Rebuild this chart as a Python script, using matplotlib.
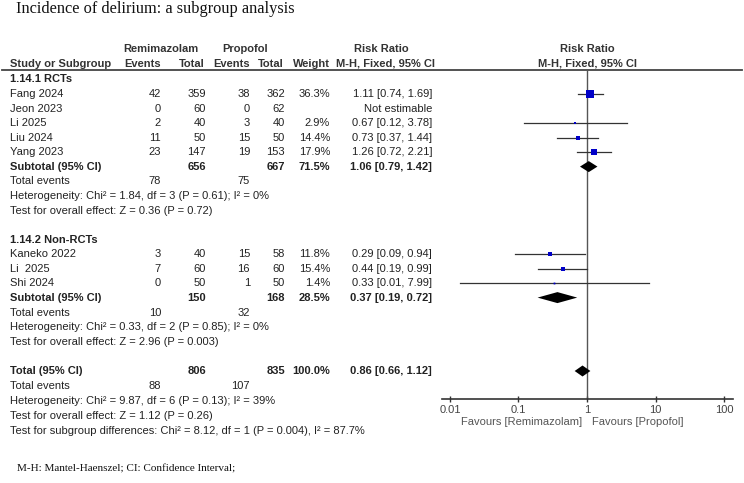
import numpy as np
import matplotlib
matplotlib.use("Agg")
from matplotlib import pyplot as plt

# dados do forest plot
grp1_studies = ["Fang 2024", "Jeon 2023", "Li 2025", "Liu 2024", "Yang 2023"]
grp1_ev_r = [42, 0, 2, 11, 23]
grp1_tot_r = [359, 60, 40, 50, 147]
grp1_ev_p = [38, 0, 3, 15, 19]
grp1_tot_p = [362, 62, 40, 50, 153]
grp1_weight = [36.3, None, 2.9, 14.4, 17.9]
grp1_rr = [1.11, None, 0.67, 0.73, 1.26]
grp1_lo = [0.74, None, 0.12, 0.37, 0.72]
grp1_hi = [1.69, None, 3.78, 1.44, 2.21]

grp2_studies = ["Kaneko 2022", "Li  2025", "Shi 2024"]
grp2_ev_r = [3, 7, 0]
grp2_tot_r = [40, 60, 50]
grp2_ev_p = [15, 16, 1]
grp2_tot_p = [58, 60, 50]
grp2_weight = [11.8, 15.4, 1.4]
grp2_rr = [0.29, 0.44, 0.33]
grp2_lo = [0.09, 0.19, 0.014]
grp2_hi = [0.94, 0.99, 7.99]

# subtotais / total: [total_r, total_p, weight, rr, lo, hi, events_r, events_p]
sub1 = [656, 667, 71.5, 1.06, 0.79, 1.42, 78, 75]
sub2 = [150, 168, 28.5, 0.37, 0.19, 0.72, 10, 32]
overall = [806, 835, 100.0, 0.86, 0.66, 1.12, 88, 107]

het1 = "Heterogeneity: Chi² = 1.84, df = 3 (P = 0.61); I² = 0%"
eff1 = "Test for overall effect: Z = 0.36 (P = 0.72)"
het2 = "Heterogeneity: Chi² = 0.33, df = 2 (P = 0.85); I² = 0%"
eff2 = "Test for overall effect: Z = 2.96 (P = 0.003)"
het_all = "Heterogeneity: Chi² = 9.87, df = 6 (P = 0.13); I² = 39%"
eff_all = "Test for overall effect: Z = 1.12 (P = 0.26)"
sub_diff = "Test for subgroup differences: Chi² = 8.12, df = 1 (P = 0.004), I² = 87.7%"

tick_vals = [0.01, 0.1, 1, 10, 100]
tick_labels = ["0.01", "0.1", "1", "10", "100"]

plt.rcParams['font.family'] = ['Liberation Sans', 'DejaVu Sans']
TXT = '#222222'
FS = 8

fig = plt.figure(figsize=(7.44, 4.83), dpi=100)
tab = fig.add_axes([0, 0, 1, 1])
tab.set_xlim(0, 744)
tab.set_ylim(483, 0)
tab.axis('off')

# colunas (x em pixels, alinhamento a direita)
X_STUDY, X_EVR, X_TOTR, X_EVP, X_TOTP, X_W, X_RR = 10, 161, 206, 250, 285, 330, 432
X_PLOT = 587

fig.text(16.5 / 744, 1 - 9 / 483, "Incidence of delirium: a subgroup analysis",
         family='Liberation Serif', fontsize=11.8, color='#111', va='center')
fig.text(17 / 744, 1 - 469 / 483, "M-H: Mantel-Haenszel; CI: Confidence Interval;",
         family='Liberation Serif', fontsize=8, color='#111', va='center')

hb = dict(fontsize=FS, fontweight='bold', color='#333', va='center')
tab.text(161, 49.5, "Remimazolam", ha='center', **hb)
tab.text(245, 49.5, "Propofol", ha='center', **hb)
tab.text(381, 49.5, "Risk Ratio", ha='center', **hb)
tab.text(X_PLOT, 49.5, "Risk Ratio", ha='center', **hb)
tab.text(X_STUDY, 64, "Study or Subgroup", ha='left', **hb)
tab.text(X_EVR, 64, "Events", ha='right', **hb)
tab.text(X_TOTR - 1, 64, "Total", ha='right', **hb)
tab.text(X_EVP, 64, "Events", ha='right', **hb)
tab.text(X_TOTP - 1, 64, "Total", ha='right', **hb)
tab.text(X_W, 64, "Weight", ha='right', **hb)
tab.text(386, 64, "M-H, Fixed, 95% CI", ha='center', **hb)
tab.text(X_PLOT, 64, "M-H, Fixed, 95% CI", ha='center', **hb)
tab.plot([2, 742], [69.5, 69.5], color='#444', lw=1.3)

# eixo do forest plot
ax = fig.add_axes([441.7 / 744, (483 - 399) / 483, (733 - 441.7) / 744, (399 - 69.5) / 483])
ax.set_xscale('log')
ax.set_xlim(10 ** -2.121, 10 ** 2.131)
ax.set_ylim(399, 69.5)
ax.patch.set_alpha(0)
for s in ['top', 'left', 'right']:
    ax.spines[s].set_visible(False)
ax.spines['bottom'].set_color('#333')
ax.spines['bottom'].set_linewidth(1.2)
ax.axvline(1, color='#555', lw=1)
ax.set_xticks(tick_vals, labels=tick_labels)
ax.minorticks_off()
ax.set_yticks([])
ax.tick_params(axis='x', direction='inout', length=5, width=1, colors='#333',
               labelcolor='#444', labelsize=FS, pad=1.5)

tab.text(582, 422, "Favours [Remimazolam]", ha='right', va='center', fontsize=FS, color='#555')
tab.text(592, 422, "Favours [Propofol]", ha='left', va='center', fontsize=FS, color='#555')


def study_rows(names, evr, totr, evp, totp, w, rr, lo, hi, ys):
    for i in range(len(names)):
        y = ys[i]
        n = dict(fontsize=FS, color=TXT, va='center')
        tab.text(X_STUDY, y, names[i], ha='left', **n)
        tab.text(X_EVR, y, str(evr[i]), ha='right', **n)
        tab.text(X_TOTR, y, str(totr[i]), ha='right', **n)
        tab.text(X_EVP, y, str(evp[i]), ha='right', **n)
        tab.text(X_TOTP, y, str(totp[i]), ha='right', **n)
        if rr[i] is None:
            tab.text(X_RR, y, "Not estimable", ha='right', **n)
            continue
        tab.text(X_W, y, f"{w[i]:.1f}%", ha='right', **n)
        tab.text(X_RR, y, f"{rr[i]:.2f} [{lo[i]:.2f}, {hi[i]:.2f}]", ha='right', **n)
        ax.plot([lo[i], hi[i]], [y, y], color='#333', lw=0.9, zorder=2)
        ms = max(1.3, 5.2 * np.sqrt(w[i] / 36.3))
        ax.plot(rr[i], y, marker='s', ms=ms, color='#0000c8', mec='#0000c8', mew=0, zorder=3)


def diamond(y, rr, lo, hi):
    ax.fill([lo, rr, hi, rr], [y, y - 5.5, y, y + 5.5], color='black', zorder=3, lw=0)


def summary(label, y, s):
    b = dict(fontsize=FS, color=TXT, va='center', fontweight='bold')
    tab.text(X_STUDY, y, label, ha='left', **b)
    tab.text(X_TOTR, y, str(s[0]), ha='right', **b)
    tab.text(X_TOTP, y, str(s[1]), ha='right', **b)
    tab.text(X_W, y, f"{s[2]:.1f}%", ha='right', **b)
    tab.text(X_RR, y, f"{s[3]:.2f} [{s[4]:.2f}, {s[5]:.2f}]", ha='right', **b)
    diamond(y, s[3], s[4], s[5])


def events(y, s):
    n = dict(fontsize=FS, color=TXT, va='center')
    tab.text(X_STUDY, y, "Total events", ha='left', **n)
    tab.text(X_EVR, y, str(s[6]), ha='right', **n)
    tab.text(X_EVP, y, str(s[7]), ha='right', **n)


def line(y, t, bold=False):
    tab.text(X_STUDY, y, t, ha='left', va='center', fontsize=FS, color=TXT,
             fontweight='bold' if bold else 'normal')


# grupo 1
line(79.5, "1.14.1 RCTs", bold=True)
study_rows(grp1_studies, grp1_ev_r, grp1_tot_r, grp1_ev_p, grp1_tot_p, grp1_weight,
           grp1_rr, grp1_lo, grp1_hi, [94.3, 108.7, 123.2, 137.6, 152.1])
summary("Subtotal (95% CI)", 166.6, sub1)
events(181.5, sub1)
line(196.2, het1)
line(210.8, eff1)

# grupo 2
line(240, "1.14.2 Non-RCTs", bold=True)
study_rows(grp2_studies, grp2_ev_r, grp2_tot_r, grp2_ev_p, grp2_tot_p, grp2_weight,
           grp2_rr, grp2_lo, grp2_hi, [254.2, 268.7, 283.1])
summary("Subtotal (95% CI)", 297.6, sub2)
events(312.6, sub2)
line(327.2, het2)
line(341.7, eff2)

# total
summary("Total (95% CI)", 371, overall)
events(386.3, overall)
line(401.3, het_all)
line(416, eff_all)
line(430.7, sub_diff)

fig.savefig("out.png", dpi=100)
